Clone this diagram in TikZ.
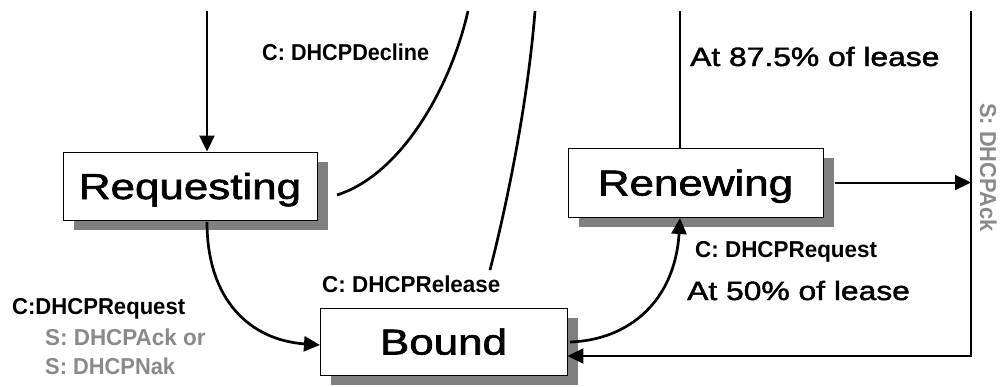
\documentclass[tikz,border=0pt]{standalone}
\usepackage{fontspec}
\usepackage{graphicx}
\setmainfont{Liberation Sans}
\newfontfamily\heavyfont[FakeBold=1.6]{Liberation Sans}
\usetikzlibrary{arrows.meta,calc,shadows}
\definecolor{shgray}{RGB}{128,128,128}
\definecolor{txgray}{RGB}{138,138,138}
\begin{document}
\begin{tikzpicture}[x=1pt,y=-1pt,
  statebox/.style={draw=black,line width=0.9pt,fill=white,inner sep=0pt,
    text height=26pt,text depth=0pt,font=\heavyfont\fontsize{36}{40}\selectfont,
    drop shadow={shadow xshift=11pt,shadow yshift=-10pt,fill=shgray,opacity=1}},
  link/.style={line width=2.7pt,black},
  wire/.style={line width=2pt,black},
  tip/.style={-{Triangle[length=16pt,width=15pt]}},
  lbl/.style={anchor=base west,inner sep=0pt,font=\bfseries\fontsize{23}{26}\selectfont},
  glbl/.style={lbl,text=txgray},
  big/.style={anchor=base west,inner sep=0pt,font=\heavyfont\fontsize{26.5}{30}\selectfont}]

\useasboundingbox (0,0) rectangle (1001,386);
\fill[white] (0,0) rectangle (1001,386);

% states
\node[statebox,minimum width=254pt,minimum height=68pt] (req) at (190,186) {\scalebox{1.22}[1]{Requesting}};
\node[statebox,minimum width=255pt,minimum height=69pt] (ren) at (695.5,182.5) {\scalebox{1.22}[1]{Renewing}};
\node[statebox,minimum width=247pt,minimum height=67pt] (bound) at (443.5,341.5) {\scalebox{1.22}[1]{Bound}};

% coordinates
\coordinate (topA) at (207,11);
\coordinate (decS) at (337,195);
\coordinate (decT) at (468,11);
\coordinate (relS) at (490,270);
\coordinate (relT) at (535,11);
\coordinate (reqB) at (207,222);
\coordinate (bndIn) at (320,345);
\coordinate (bndE) at (570,342);
\coordinate (renB) at (680,218);
\coordinate (topR) at (680,11);
\coordinate (rt) at (971,11);
\coordinate (rb) at (971,356);

% connectors
\draw[wire,tip] (topA) -- (topA |- req.north);
\draw[link] (decS) .. controls (400,175) and (450,90) .. (decT);
\draw[link] (relS) .. controls (508,200) and (528,100) .. (relT);
\draw[link,tip] (reqB) .. controls (207,300) and (250,340) .. (bndIn);
\draw[link,tip] (bndE) .. controls (630,340) and (675,300) .. (renB);
\draw[wire] (ren.north -| topR) -- (topR);
\draw[wire,tip] ($(ren.east)+(12,0)$) -- (ren.east -| rt);
\draw[wire,tip] (rt) -- (rb) -- (rb -| bound.east);

% labels
\node[lbl] (ldec) at (262,60) {\scalebox{0.94}[1]{C: DHCPDecline}};
\node[lbl] (lrel) at (322,292) {\scalebox{0.975}[1]{C: DHCPRelease}};
\node[lbl] (lreq) at (695,257) {\scalebox{0.975}[1]{C: DHCPRequest}};
\node[big] (l50) at (687,300) {\scalebox{1.2}[1]{At 50\% of lease}};
\node[big] (l875) at (690,66) {\scalebox{1.2}[1]{At 87.5\% of lease}};
\node[lbl] (lreqL) at (12,314) {\scalebox{0.96}[1]{C:DHCPRequest}};
\node[glbl] (lack) at (45,345) {\scalebox{0.975}[1]{S: DHCPAck or}};
\node[glbl] (lnak) at (45,374) {\scalebox{0.95}[1]{S: DHCPNak}};
\node[glbl,rotate=-90] (lack2) at (980,103) {\scalebox{0.95}[1]{S: DHCPAck}};
\end{tikzpicture}
\end{document}
